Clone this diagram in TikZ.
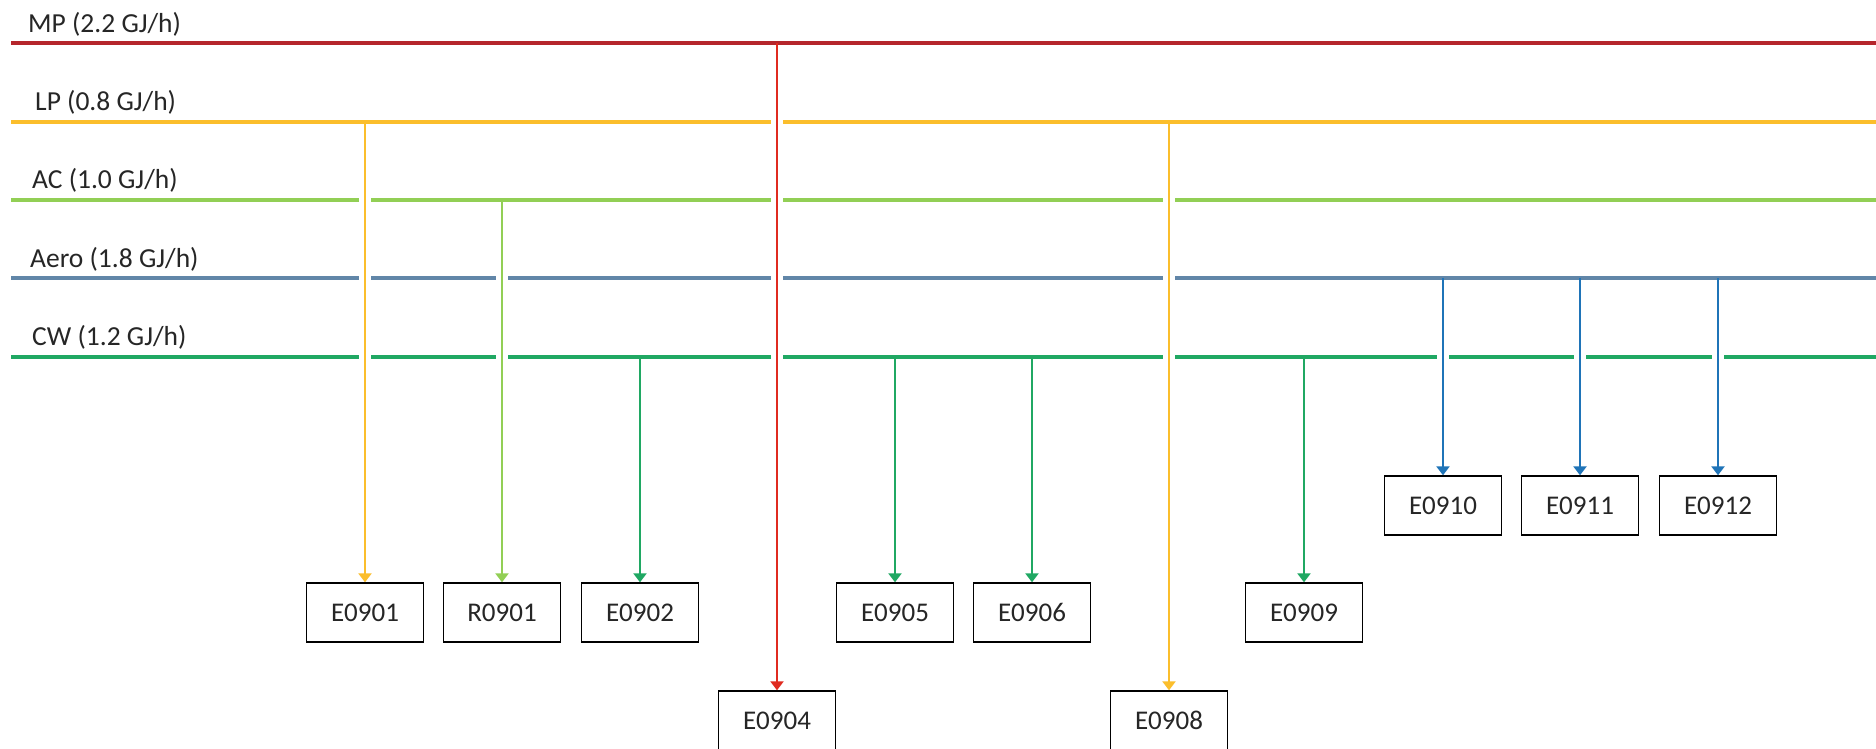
\documentclass[tikz,border=0pt]{standalone}
\usepackage{fontspec}
\setmainfont{Carlito}
\usetikzlibrary{arrows.meta}
\definecolor{mpH}{HTML}{B5262C}
\definecolor{mpV}{HTML}{E02B20}
\definecolor{lpC}{HTML}{FBBE2C}
\definecolor{acC}{HTML}{92CF55}
\definecolor{aeroH}{HTML}{6186A8}
\definecolor{aeroV}{HTML}{1F74B8}
\definecolor{cwC}{HTML}{20A863}
\definecolor{txt}{HTML}{262626}
\tikzset{
  hline/.style={line width=3.2pt},
  vline/.style={line width=2.8pt,-{Triangle[width=13pt,length=9pt]}},
  unitbox/.style={draw=black,line width=1.4pt,minimum width=117pt,minimum height=59pt,inner sep=0pt,
    font=\fontsize{27}{30}\selectfont,text=txt},
  hdr/.style={anchor=base west,inner sep=0pt,font=\fontsize{27.5}{30}\selectfont,text=txt},
  gapw/.style={fill=white,draw=none}
}
\begin{document}
\begin{tikzpicture}[x=1pt,y=-1pt]
\useasboundingbox[fill=white] (0,0) rectangle (1876,748);
% headers
\node[hdr] (tmp) at (28,32) {MP (2.2 GJ/h)};
\node[hdr] (tlp) at (35,110) {LP (0.8 GJ/h)};
\node[hdr] (tac) at (32,188) {AC (1.0 GJ/h)};
\node[hdr] (taero) at (30,267) {Aero (1.8 GJ/h)};
\node[hdr] (tcw) at (32,345) {CW (1.2 GJ/h)};
% header lines
\coordinate (mpL) at (11,43);   \coordinate (mpR) at (1876,43);
\coordinate (lpL) at (11,122);  \coordinate (lpR) at (1876,122);
\coordinate (acL) at (11,200);  \coordinate (acR) at (1876,200);
\coordinate (aeL) at (11,278);  \coordinate (aeR) at (1876,278);
\coordinate (cwL) at (11,357);  \coordinate (cwR) at (1876,357);
\draw[hline,mpH] (mpL) -- (mpR);
\draw[hline,lpC] (lpL) -- (lpR);
\draw[hline,acC] (acL) -- (acR);
\draw[hline,aeroH] (aeL) -- (aeR);
\draw[hline,cwC] (cwL) -- (cwR);
% gaps where verticals cross
\foreach \x/\y in {365/200,365/278,365/357,
                   502/278,502/357,
                   777/122,777/200,777/278,777/357,
                   1169/200,1169/278,1169/357,
                   1443/357,1580/357,1718/357}
  \fill[gapw] (\x-6,\y-3) rectangle (\x+6,\y+3);
% boxes
\node[unitbox] (e0901) at (365,612.5) {E0901};
\node[unitbox] (r0901) at (502,612.5) {R0901};
\node[unitbox] (e0902) at (640,612.5) {E0902};
\node[unitbox] (e0904) at (777,720.5) {E0904};
\node[unitbox] (e0905) at (895,612.5) {E0905};
\node[unitbox] (e0906) at (1032,612.5) {E0906};
\node[unitbox] (e0908) at (1169,720.5) {E0908};
\node[unitbox] (e0909) at (1304,612.5) {E0909};
\node[unitbox] (e0910) at (1443,505.5) {E0910};
\node[unitbox] (e0911) at (1580,505.5) {E0911};
\node[unitbox] (e0912) at (1718,505.5) {E0912};
% junctions
\coordinate (j0901) at (365,122);
\coordinate (j0901r) at (502,200);
\coordinate (j0902) at (640,357);
\coordinate (j0904) at (777,43);
\coordinate (j0905) at (895,357);
\coordinate (j0906) at (1032,357);
\coordinate (j0908) at (1169,122);
\coordinate (j0909) at (1304,357);
\coordinate (j0910) at (1443,278);
\coordinate (j0911) at (1580,278);
\coordinate (j0912) at (1718,278);
% connectors
\draw[vline,lpC] (j0901) -- (e0901.north);
\draw[vline,acC] (j0901r) -- (r0901.north);
\draw[vline,cwC] (j0902) -- (e0902.north);
\draw[vline,mpV] (j0904) -- (e0904.north);
\draw[vline,cwC] (j0905) -- (e0905.north);
\draw[vline,cwC] (j0906) -- (e0906.north);
\draw[vline,lpC] (j0908) -- (e0908.north);
\draw[vline,cwC] (j0909) -- (e0909.north);
\draw[vline,aeroV] (j0910) -- (e0910.north);
\draw[vline,aeroV] (j0911) -- (e0911.north);
\draw[vline,aeroV] (j0912) -- (e0912.north);
\end{tikzpicture}
\end{document}
